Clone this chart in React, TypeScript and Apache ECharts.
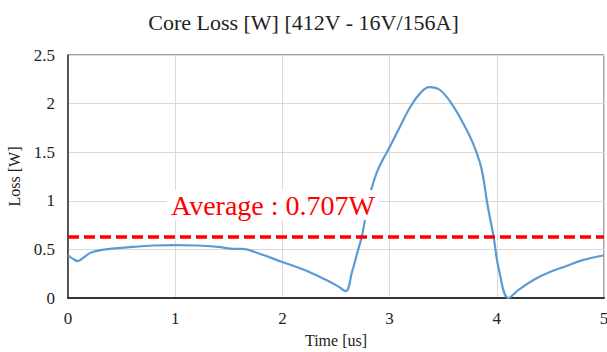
import React, { useEffect, useRef } from "react";
import * as echarts from "echarts";

const timeUs = [
  0, 0.05, 0.09, 0.15, 0.22, 0.35, 0.55, 0.8, 1.0, 1.2, 1.4, 1.55, 1.62, 1.8, 2.0, 2.2, 2.4, 2.52, 2.59,
  2.65, 2.7, 2.74, 2.79, 2.83, 2.88, 2.94, 3.0, 3.1, 3.19, 3.28, 3.37, 3.47, 3.59, 3.67, 3.75, 3.81, 3.86,
  3.91, 3.97, 4.02, 4.11, 4.2, 4.35, 4.5, 4.65, 4.8, 5.0,
];
const lossW = [
  0.44, 0.4, 0.38, 0.42, 0.47, 0.5, 0.52, 0.54, 0.545, 0.54, 0.525, 0.505, 0.505, 0.45, 0.37, 0.29, 0.19,
  0.12, 0.07, 0.27, 0.47, 0.63, 0.92, 1.12, 1.29, 1.43, 1.55, 1.77, 1.96, 2.1, 2.17, 2.14, 1.98, 1.83,
  1.66, 1.5, 1.32, 0.98, 0.63, 0.29, 0.0, 0.08, 0.19, 0.27, 0.33, 0.39, 0.44,
];
const averageLine = 0.63;
const averageText = "Average : 0.707W";
const titleText = "Core Loss [W] [412V - 16V/156A]";
const xName = "Time [us]";
const yName = "Loss [W]";

export default function App() {
  const ref = useRef<HTMLDivElement>(null);
  useEffect(() => {
    if (!ref.current) return;
    const chart = echarts.init(ref.current, undefined, { renderer: "svg" });
    const font = "Liberation Serif, serif";
    chart.setOption({
      animation: false,
      backgroundColor: "#ffffff",
      textStyle: { fontFamily: font },
      title: {
        text: titleText,
        left: "center",
        top: 6,
        textStyle: { fontFamily: font, fontSize: 22, fontWeight: "normal", color: "#222" },
      },
      grid: {
        left: 68,
        right: 3,
        top: 55,
        bottom: 54,
        outerBoundsMode: "none",
        containLabel: false,
        show: true,
        borderColor: "#444",
        borderWidth: 1,
      },
      xAxis: {
        type: "value",
        min: 0,
        max: 5,
        interval: 1,
        name: xName,
        nameLocation: "middle",
        nameGap: 34,
        nameTextStyle: { fontFamily: font, fontSize: 16, color: "#222" },
        axisLine: { show: true, lineStyle: { color: "#333", width: 2 } },
        axisTick: { show: false },
        axisLabel: { fontFamily: font, fontSize: 17, color: "#222", margin: 12 },
        splitLine: { show: true, lineStyle: { color: "#d9d9d9", width: 1 } },
      },
      yAxis: {
        type: "value",
        min: 0,
        max: 2.5,
        interval: 0.5,
        name: yName,
        nameLocation: "middle",
        nameGap: 40,
        nameTextStyle: { fontFamily: font, fontSize: 16, color: "#222" },
        axisLine: { show: true, lineStyle: { color: "#333", width: 1.5 } },
        axisTick: { show: false },
        axisLabel: { fontFamily: font, fontSize: 17, color: "#222", margin: 13 },
        splitLine: { show: true, lineStyle: { color: "#d9d9d9", width: 1 } },
      },
      series: [
        {
          type: "line",
          data: timeUs.map((t, i) => [t, lossW[i]]),
          showSymbol: false,
          smooth: 0.4,
          lineStyle: { color: "#5b9bd5", width: 2.2 },
          z: 3,
          markLine: {
            silent: true,
            symbol: "none",
            label: { show: false },
            lineStyle: { color: "#ff0000", width: 3.5, type: [11, 5] },
            data: [{ yAxis: averageLine }],
            z: 4,
          },
        },
      ],
      graphic: [
        {
          type: "text",
          left: 167,
          top: 190,
          z: 10,
          style: {
            text: averageText,
            fontFamily: font,
            fontSize: 28,
            fill: "#ff0000",
            backgroundColor: "#ffffff",
            padding: [1, 4],
          },
        },
      ],
    });
    return () => chart.dispose();
  }, []);
  return (
    <div
      ref={ref}
      style={{ position: "fixed", left: 0, top: 0, width: 607, height: 352 }}
    />
  );
}
